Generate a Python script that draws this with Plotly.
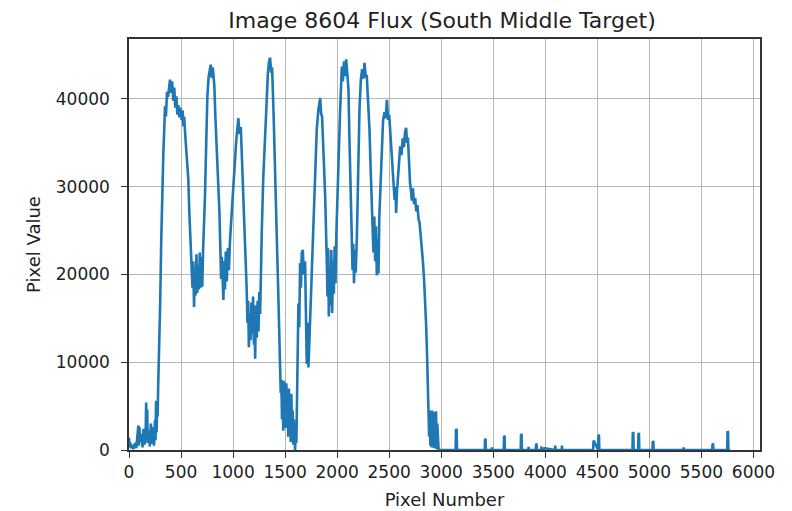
import plotly.graph_objects as go

# ---- data (pixel number, pixel value) ----
pixel_number = [
    0, 5, 10, 20, 30, 40, 50, 60, 70, 80, 90, 95, 100, 110, 120, 130, 140, 150, 160, 165,
    170, 175, 180, 190, 200, 210, 220, 230, 240, 250, 255, 260, 265, 270, 275, 280, 285, 290,
    300, 310, 320, 330, 340, 346, 355, 365, 375, 385, 394, 405, 415, 425, 435, 445, 455, 465,
    474, 485, 495, 505, 515, 522, 530, 538, 548, 558, 570, 580, 587, 595, 603, 610, 617, 625,
    632, 640, 648, 656, 664, 672, 680, 688, 696, 704, 712, 720, 730, 742, 753, 765, 775, 785,
    795, 805, 811, 820, 830, 843, 856, 869, 878, 885, 892, 900, 907, 915, 922, 930, 940, 950,
    960, 971, 985, 1003, 1015, 1029, 1040, 1051, 1062, 1074, 1086, 1099, 1112, 1125, 1131,
    1138, 1145, 1152, 1160, 1168, 1176, 1184, 1192, 1200, 1206, 1212, 1220, 1228, 1236, 1244,
    1252, 1260, 1268, 1276, 1290, 1308, 1322, 1335, 1346, 1356, 1366, 1375, 1390, 1404, 1412,
    1420, 1433, 1446, 1452, 1458, 1464, 1470, 1476, 1482, 1488, 1494, 1500, 1506, 1512, 1518,
    1524, 1530, 1536, 1542, 1548, 1554, 1560, 1566, 1572, 1578, 1584, 1590, 1596, 1602, 1608,
    1614, 1620, 1628, 1636, 1644, 1652, 1660, 1670, 1680, 1692, 1700, 1708, 1716, 1724, 1732,
    1742, 1756, 1772, 1788, 1804, 1820, 1837, 1846, 1855, 1870, 1885, 1901, 1907, 1914, 1920,
    1928, 1936, 1944, 1952, 1960, 1968, 1976, 1984, 1992, 2000, 2013, 2028, 2045, 2055, 2066,
    2076, 2087, 2098, 2109, 2117, 2125, 2133, 2141, 2148, 2155, 2162, 2170, 2178, 2189, 2197,
    2205, 2215, 2228, 2240, 2252, 2263, 2274, 2285, 2298, 2311, 2322, 2333, 2341, 2349, 2357,
    2365, 2373, 2381, 2389, 2397, 2405, 2417, 2429, 2441, 2455, 2466, 2478, 2490, 2500, 2510,
    2526, 2542, 2552, 2560, 2567, 2575, 2585, 2595, 2606, 2618, 2630, 2642, 2653, 2663, 2672,
    2680, 2690, 2700, 2710, 2718, 2728, 2739, 2750, 2760, 2771, 2782, 2792, 2803, 2814, 2824,
    2835, 2846, 2854, 2862, 2870, 2878, 2884, 2890, 2896, 2902, 2908, 2914, 2920, 2926, 2932,
    2938, 2944, 2950, 2956, 2962, 2968, 2975, 3000,
    3138, 3142, 3148, 3152, 3418, 3421, 3426, 3429, 3484, 3487, 3490, 3601, 3604, 3609, 3612,
    3764, 3767, 3772, 3775, 3837, 3840, 3843, 3909, 3912, 3916, 3919, 3960, 3963, 3990, 3993,
    4093, 4096, 4099, 4157, 4160, 4163, 4460, 4463, 4468, 4508, 4511, 4516, 4519, 4838, 4841,
    4846, 4849, 4892, 4895, 4900, 4903, 5030, 5033, 5038, 5041, 5327, 5330, 5333, 5604, 5607,
    5612, 5615, 5748, 5751, 5756, 5759, 5775,
]
pixel_value = [
    1400, 300, 900, 200, 600, 100, 400, 800, 200, 1200, 2800, 500, 2600, 900, 1800, 300, 2400,
    600, 1900, 5400, 1200, 4600, 800, 2200, 400, 3000, 700, 2600, 500, 3400, 1100, 5600, 2000,
    4800, 3800, 7000, 9000, 12000,
    17000, 24000, 30000, 33800, 37000, 39200, 38000, 40800, 40200, 41800, 42200, 40700, 42000,
    39800, 41300, 39000, 40300, 38200, 39300, 37900, 39000, 37600, 38700, 36900, 38000, 36300,
    34500, 32800, 30800, 27000, 25000, 22800, 21300, 18500, 21500, 16300, 20800, 17600, 22300,
    17900, 21000, 18300, 22500, 18500, 22000, 18600, 22800, 25000, 28900, 35000, 40300, 42500,
    43500, 43900, 42400, 43600, 42800, 41500, 38000, 34600, 30500, 27000, 22800, 19500, 22000,
    18000, 17100, 21500, 18300, 22600, 19200, 23000, 20500, 24000, 27000, 30400, 33000, 35000,
    36500, 37800, 36000, 36800, 33000, 28900, 25000, 21300, 18200, 14500, 17000, 11700, 15500,
    12500, 16800, 13200, 17500, 12000, 15800, 10400, 16500, 12800, 17000, 13500, 18000, 15500,
    21000, 25000, 31000, 36500, 40500, 43000, 44300, 44700, 43000, 43600, 38000, 32700, 28500,
    24300, 18500, 13600, 9800, 6500, 8000, 3500, 7200, 2200, 7900, 3000, 6500, 2500, 7600,
    3800, 5800, 1500, 7000, 2600, 5200, 900, 6400, 1800, 4500, 600, 3500, 300, 0, 2500, 800,
    5500, 11000, 16700, 14000, 21300, 18500, 22500, 22800, 20000, 21500, 15000, 9800, 14500,
    9400, 12000, 15500, 19000, 25000, 31000, 36500, 38800, 40100, 38300, 38000, 33500, 28900,
    21300, 17500, 23000, 15200, 20500, 16500, 22800, 15600, 21500, 17800, 23200, 19000, 24500,
    27000, 32700, 38500, 43700, 42000, 44300, 42600, 44500, 42800, 41100, 36000, 31000, 27500,
    24300, 20500, 23500, 19000, 22800, 20200, 24000, 29000, 34000, 39000, 42200, 43400, 42300,
    44100, 42600, 42600, 39500, 36500, 32000, 28100, 25000, 22500, 26600, 21500, 25500, 19900,
    24000, 20100, 26500, 31000, 35400, 37500, 38500, 37800, 39900, 37600, 38200, 36500, 33500,
    30800, 28500, 30000, 27000, 29500, 31500, 33500, 34600, 33600, 35500, 34500, 36300, 36700,
    35000, 35600, 32500, 30500, 29500, 28400, 29800, 28000, 28700, 27200, 27900, 26300, 25900,
    24500, 23500, 21500, 19500, 17400, 14500, 11700, 8500, 6000, 1500, 4500, 500, 4400, 300,
    4500, 1200, 4300, 200, 4200, 800, 4400, 100, 3000, 0, 0, 0,
    0, 2400, 2300, 0, 0, 1250, 1200, 0, 0, 300, 0, 0, 1630, 1550, 0,
    0, 1830, 1750, 0, 0, 350, 0, 0, 690, 650, 0, 0, 250, 0, 200,
    0, 500, 0, 0, 500, 0, 0, 1060, 1000, 0, 1710, 1650, 0, 0, 2010,
    1950, 0, 0, 1900, 1850, 0, 0, 990, 950, 0, 0, 300, 0, 0, 690,
    650, 0, 0, 2130, 2050, 0, 0,
]

title_text = "Image 8604 Flux (South Middle Target)"
x_label = "Pixel Number"
y_label = "Pixel Value"
x_ticks = [0, 500, 1000, 1500, 2000, 2500, 3000, 3500, 4000, 4500, 5000, 5500, 6000]
y_ticks = [0, 10000, 20000, 30000, 40000]

fig = go.Figure()
fig.add_trace(go.Scatter(
    x=pixel_number, y=pixel_value, mode="lines",
    line=dict(color="#1f77b4", width=2.6),
    showlegend=False, hoverinfo="x+y",
))

font_family = "DejaVu Sans"
# the page body adds an 8px offset, so the figure is 8px smaller than the window
fig.update_layout(
    width=784, height=503,
    margin=dict(l=121, r=32, t=31, b=60.5, autoexpand=False),
    paper_bgcolor="white", plot_bgcolor="white",
    font=dict(family=font_family, size=17, color="#222222"),
    title=dict(text=title_text, x=0.5536, xanchor="center", xref="container",
               y=0.976, yanchor="middle", yref="container",
               font=dict(size=22, family=font_family, color="#222222")),
)
axis_common = dict(
    showgrid=True, gridcolor="#b8b8b8", gridwidth=1.2,
    showline=True, linecolor="#333333", linewidth=1.5, mirror=True,
    ticks="outside", ticklen=6, tickwidth=1.3, tickcolor="#333333",
    zeroline=False, automargin=False,
    tickfont=dict(size=17, family=font_family, color="#222222"),
)
fig.update_xaxes(range=[0, 6063], tickvals=x_ticks, ticktext=[str(t) for t in x_ticks],
                 title=dict(text=x_label, standoff=12, font=dict(size=18)), **axis_common)
fig.update_yaxes(range=[0, 46830], tickvals=y_ticks, ticktext=[str(t) for t in y_ticks],
                 ticklabelstandoff=8,
                 title=dict(text=y_label, standoff=10, font=dict(size=18)), **axis_common)

fig.write_html("out.html")
